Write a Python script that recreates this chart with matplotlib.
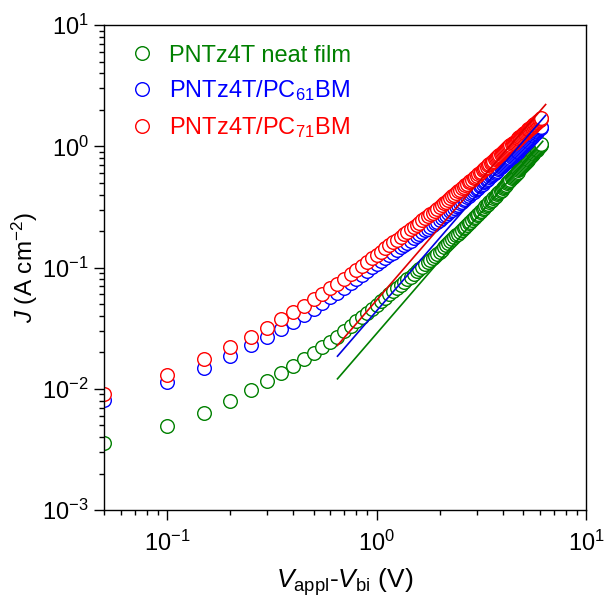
import matplotlib
matplotlib.use("Agg")
import matplotlib.pyplot as plt

plt.rcParams['font.family'] = ['Liberation Sans', 'DejaVu Sans']
plt.rcParams['mathtext.fontset'] = 'custom'
plt.rcParams['mathtext.rm'] = 'Liberation Sans'
plt.rcParams['mathtext.it'] = 'Liberation Sans:italic'
plt.rcParams['mathtext.bf'] = 'Liberation Sans:bold'
plt.rcParams['axes.unicode_minus'] = False

# ---------------- data ----------------
voltage = [
    0.05, 0.10, 0.15, 0.20, 0.25, 0.30, 0.35, 0.40, 0.45, 0.50,
    0.55, 0.60, 0.65, 0.70, 0.75, 0.80, 0.85, 0.90, 0.95, 1.00,
    1.05, 1.10, 1.15, 1.20, 1.25, 1.30, 1.35, 1.40, 1.45, 1.50,
    1.55, 1.60, 1.65, 1.70, 1.75, 1.80, 1.85, 1.90, 1.95, 2.00,
    2.05, 2.10, 2.15, 2.20, 2.25, 2.30, 2.35, 2.40, 2.45, 2.50,
    2.55, 2.60, 2.65, 2.70, 2.75, 2.80, 2.85, 2.90, 2.95, 3.00,
    3.05, 3.10, 3.15, 3.20, 3.25, 3.30, 3.35, 3.40, 3.45, 3.50,
    3.55, 3.60, 3.65, 3.70, 3.75, 3.80, 3.85, 3.90, 3.95, 4.00,
    4.05, 4.10, 4.15, 4.20, 4.25, 4.30, 4.35, 4.40, 4.45, 4.50,
    4.55, 4.60, 4.65, 4.70, 4.75, 4.80, 4.85, 4.90, 4.95, 5.00,
    5.05, 5.10, 5.15, 5.20, 5.25, 5.30, 5.35, 5.40, 5.45, 5.50,
    5.55, 5.60, 5.65, 5.70, 5.75, 5.80, 5.85, 5.90, 5.95, 6.00,
    6.05, 6.10,
]

j_neat = [
    0.00355, 0.00493, 0.00635, 0.0079, 0.0097, 0.01167, 0.01356, 0.0154, 0.0175, 0.0196,
    0.0220, 0.0244, 0.0269, 0.0299, 0.0329, 0.0360, 0.0391, 0.0423, 0.0456, 0.0490,
    0.0526, 0.0563, 0.0601, 0.0639, 0.0679, 0.0719, 0.0759, 0.0801, 0.0843, 0.0886,
    0.0929, 0.0973, 0.1018, 0.1063, 0.1109, 0.1156, 0.1203, 0.1251, 0.1299, 0.1348,
    0.1406, 0.1465, 0.1525, 0.1586, 0.1648, 0.1712, 0.1776, 0.1841, 0.1907, 0.1974,
    0.2042, 0.2111, 0.2181, 0.2251, 0.2323, 0.2396, 0.2469, 0.2544, 0.2619, 0.2695,
    0.2776, 0.2858, 0.2940, 0.3023, 0.3108, 0.3193, 0.3280, 0.3367, 0.3456, 0.3545,
    0.3636, 0.3727, 0.3820, 0.3913, 0.4007, 0.4103, 0.4199, 0.4297, 0.4395, 0.4495,
    0.4611, 0.4724, 0.4839, 0.4955, 0.5072, 0.5191, 0.5311, 0.5433, 0.5555, 0.5679,
    0.5805, 0.5932, 0.6060, 0.6190, 0.6321, 0.6453, 0.6586, 0.6722, 0.6858, 0.6993,
    0.7133, 0.7277, 0.7420, 0.7563, 0.7709, 0.7856, 0.8004, 0.8153, 0.8304, 0.8456,
    0.8610, 0.8765, 0.8923, 0.9081, 0.9241, 0.9402, 0.9564, 0.9727, 0.9892, 1.0058,
    1.0225, 1.0394,
]

j_pc61 = [
    0.00807, 0.0114, 0.0149, 0.0186, 0.0230, 0.0269, 0.0309, 0.0357, 0.0406, 0.0455,
    0.0513, 0.0568, 0.0619, 0.0680, 0.0742, 0.0806, 0.0870, 0.0936, 0.1002, 0.1069,
    0.1134, 0.1199, 0.1265, 0.1331, 0.1398, 0.1465, 0.1533, 0.1602, 0.1671, 0.1740,
    0.1810, 0.1880, 0.1951, 0.2022, 0.2094, 0.2166, 0.2238, 0.2311, 0.2384, 0.2457,
    0.2547, 0.2638, 0.2730, 0.2823, 0.2917, 0.3012, 0.3108, 0.3205, 0.3303, 0.3402,
    0.3502, 0.3603, 0.3704, 0.3806, 0.3910, 0.4014, 0.4119, 0.4225, 0.4331, 0.4439,
    0.4557, 0.4676, 0.4796, 0.4917, 0.5039, 0.5162, 0.5285, 0.5411, 0.5537, 0.5664,
    0.5792, 0.5921, 0.6052, 0.6183, 0.6315, 0.6449, 0.6583, 0.6719, 0.6856, 0.6993,
    0.7134, 0.7275, 0.7417, 0.7561, 0.7705, 0.7851, 0.7997, 0.8150, 0.8299, 0.8449,
    0.8604, 0.8752, 0.8904, 0.9059, 0.9213, 0.9368, 0.9525, 0.9682, 0.9841, 1.0000,
    1.0188, 1.0377, 1.0568, 1.0761, 1.0955, 1.1152, 1.1349, 1.1548, 1.1749, 1.1951,
    1.2155, 1.2360, 1.2567, 1.2776, 1.2987, 1.3199, 1.3413, 1.3628, 1.3845, 1.4064,
    1.4284, 1.4505,
]

j_pc71 = [
    0.00905, 0.0129, 0.0176, 0.0220, 0.0269, 0.0319, 0.0374, 0.0432, 0.0485, 0.0547,
    0.0610, 0.0674, 0.0734, 0.0804, 0.0878, 0.0954, 0.1031, 0.1109, 0.1189, 0.1270,
    0.1353, 0.1438, 0.1525, 0.1612, 0.1701, 0.1790, 0.1880, 0.1972, 0.2065, 0.2159,
    0.2254, 0.2350, 0.2446, 0.2544, 0.2642, 0.2742, 0.2842, 0.2943, 0.3045, 0.3148,
    0.3265, 0.3383, 0.3503, 0.3624, 0.3747, 0.3871, 0.3996, 0.4122, 0.4250, 0.4379,
    0.4509, 0.4640, 0.4773, 0.4907, 0.5042, 0.5178, 0.5316, 0.5455, 0.5594, 0.5735,
    0.5885, 0.6036, 0.6189, 0.6342, 0.6497, 0.6654, 0.6811, 0.6970, 0.7131, 0.7295,
    0.7458, 0.7622, 0.7788, 0.7955, 0.8124, 0.8293, 0.8464, 0.8636, 0.8810, 0.8984,
    0.9156, 0.9327, 0.9501, 0.9676, 0.9851, 1.0028, 1.0206, 1.0384, 1.0564, 1.0745,
    1.0927, 1.1110, 1.1294, 1.1480, 1.1666, 1.1853, 1.2041, 1.2231, 1.2421, 1.2612,
    1.2801, 1.2992, 1.3183, 1.3376, 1.3569, 1.3763, 1.3958, 1.4154, 1.4351, 1.4549,
    1.4748, 1.4948, 1.5149, 1.5350, 1.5553, 1.5756, 1.5960, 1.6165, 1.6371, 1.6578,
    1.6786, 1.6994,
]

# SCLC fit lines (J ~ V^2), end points
fit_v = [0.65, 6.4]
fit_v_neat = [0.65, 6.2]
fit_neat = [0.0121, 1.10]
fit_pc61 = [0.0186, 1.80]
fit_pc71 = [0.0228, 2.21]

labels = ["PNTz4T neat film", r"PNTz4T/PC$_{61}$BM", r"PNTz4T/PC$_{71}$BM"]
colors = ["#008000", "#0000ff", "#ff0000"]
line_colors = ["#008000", "#0000e0", "#e00000"]

# ---------------- figure ----------------
fig = plt.figure(figsize=(6.05, 6.03), dpi=100)
ax = fig.add_axes([0.172, 0.154, 0.797, 0.8045])

series = [j_neat, j_pc61, j_pc71]
for ys, lab, c in zip(series, labels, colors):
    ax.plot(voltage, ys, linestyle='none', marker='o', markersize=9.8,
            markerfacecolor='white', markeredgecolor=c, markeredgewidth=1.0,
            color=c, label=lab, zorder=2)

ax.plot(fit_v_neat, fit_neat, color=line_colors[0], lw=1.2, zorder=3)
ax.plot(fit_v, fit_pc61, color=line_colors[1], lw=1.2, zorder=3)
ax.plot(fit_v, fit_pc71, color=line_colors[2], lw=1.2, zorder=3)

ax.set_xscale('log')
ax.set_yscale('log')
ax.set_xlim(0.05, 10)
ax.set_ylim(1e-3, 10)

for s in ax.spines.values():
    s.set_linewidth(1.0)

ax.tick_params(which='both', direction='out', top=False, right=False,
               labelsize=17, width=1.0, colors='black')
ax.tick_params(which='major', length=7)
ax.tick_params(which='minor', length=3.6)
ax.tick_params(axis='x', which='major', pad=8)
ax.tick_params(axis='y', which='major', pad=4)

ax.set_xlabel(r"$V_{\mathrm{appl}}$-$V_{\mathrm{bi}}$ (V)", fontsize=19, labelpad=7)
ax.set_ylabel(r"$J$ (A cm$^{\mathrm{-2}}$)", fontsize=17.5, labelpad=1.5)

leg = ax.legend(loc='upper left', bbox_to_anchor=(0.035, 0.979), frameon=False,
                fontsize=17, handlelength=1.0, handletextpad=0.62,
                labelspacing=0.5, numpoints=1, labelcolor='linecolor',
                borderaxespad=0.0)

fig.savefig("out.png", dpi=100)
